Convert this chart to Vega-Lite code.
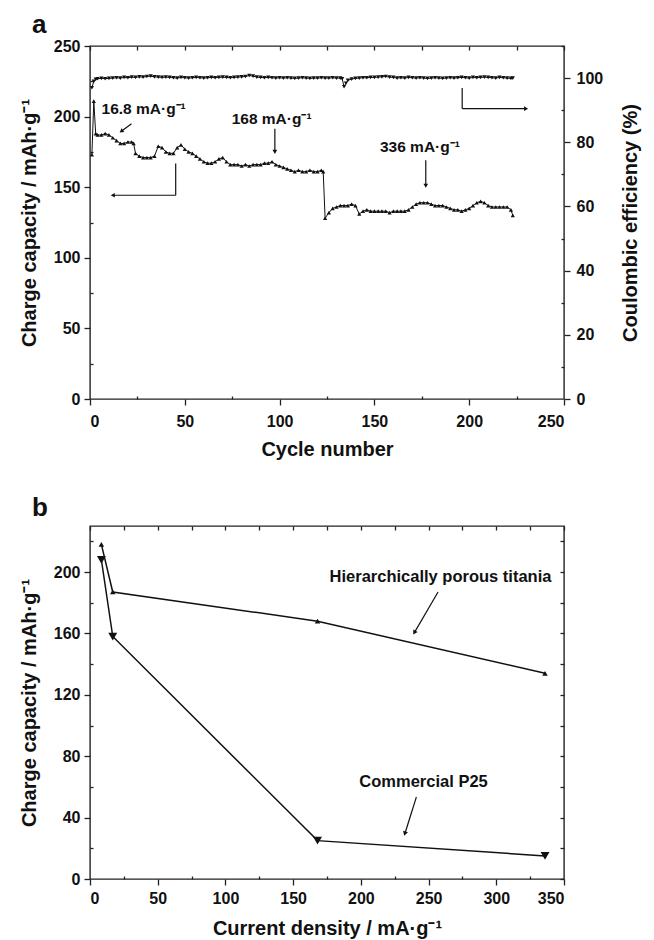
{
"$schema": "https://vega.github.io/schema/vega-lite/v6.json",
"padding": {"left": 18, "top": 11, "right": 2, "bottom": 2},
"background": "white",
"spacing": 34,
"config": {
 "view": {"stroke": "#222", "strokeWidth": 1.4},
 "axis": {"domain": false, "grid": false, "tickColor": "#222", "tickWidth": 1.3,
  "labelFont": "Liberation Sans Narrow, Arial Narrow, Liberation Sans", "labelFontWeight": "bold", "labelFontSize": 16, "labelColor": "#111",
  "titleFont": "Liberation Sans", "titleFontWeight": "bold", "titleFontSize": 20, "titleColor": "#111"},
 "title": {"font": "Liberation Sans", "fontWeight": "bold", "fontSize": 26, "color": "#111"}
},
"datasets": {
 "cap": [
{"cycle":1,"cap":173},{"cycle":2,"cap":211},{"cycle":3,"cap":188},{"cycle":4,"cap":187},{"cycle":6,"cap":187},{"cycle":8,"cap":188},{"cycle":10,"cap":187},{"cycle":12,"cap":185},{"cycle":14,"cap":183},{"cycle":16,"cap":181},{"cycle":18,"cap":181},{"cycle":20,"cap":182},{"cycle":22,"cap":182},{"cycle":23,"cap":181},{"cycle":24,"cap":174},{"cycle":26,"cap":172},{"cycle":28,"cap":171},{"cycle":30,"cap":171},{"cycle":32,"cap":171},{"cycle":34,"cap":172},{"cycle":36,"cap":179},{"cycle":38,"cap":178},{"cycle":40,"cap":175},{"cycle":42,"cap":174},{"cycle":44,"cap":174},{"cycle":46,"cap":178},{"cycle":48,"cap":180},{"cycle":50,"cap":177},{"cycle":52,"cap":175},{"cycle":54,"cap":174},{"cycle":56,"cap":172},{"cycle":58,"cap":170},{"cycle":60,"cap":168},{"cycle":62,"cap":167},{"cycle":64,"cap":167},{"cycle":66,"cap":168},{"cycle":68,"cap":170},{"cycle":70,"cap":171},{"cycle":72,"cap":168},{"cycle":74,"cap":166},{"cycle":76,"cap":166},{"cycle":78,"cap":166},{"cycle":80,"cap":165},{"cycle":82,"cap":166},{"cycle":84,"cap":165},{"cycle":86,"cap":166},{"cycle":88,"cap":166},{"cycle":90,"cap":166},{"cycle":92,"cap":167},{"cycle":94,"cap":167},{"cycle":96,"cap":168},{"cycle":98,"cap":166},{"cycle":100,"cap":165},{"cycle":102,"cap":164},{"cycle":104,"cap":163},{"cycle":106,"cap":162},{"cycle":108,"cap":161},{"cycle":110,"cap":162},{"cycle":112,"cap":161},{"cycle":114,"cap":161},{"cycle":116,"cap":162},{"cycle":118,"cap":161},{"cycle":120,"cap":161},{"cycle":122,"cap":162},{"cycle":123,"cap":161},{"cycle":124,"cap":128},{"cycle":126,"cap":132},{"cycle":128,"cap":135},{"cycle":130,"cap":136},{"cycle":132,"cap":137},{"cycle":134,"cap":137},{"cycle":136,"cap":137},{"cycle":138,"cap":138},{"cycle":140,"cap":137},{"cycle":142,"cap":131},{"cycle":144,"cap":133},{"cycle":146,"cap":134},{"cycle":148,"cap":133},{"cycle":150,"cap":133},{"cycle":152,"cap":133},{"cycle":154,"cap":133},{"cycle":156,"cap":133},{"cycle":158,"cap":132},{"cycle":160,"cap":133},{"cycle":162,"cap":133},{"cycle":164,"cap":133},{"cycle":166,"cap":133},{"cycle":168,"cap":134},{"cycle":170,"cap":136},{"cycle":172,"cap":138},{"cycle":174,"cap":139},{"cycle":176,"cap":139},{"cycle":178,"cap":139},{"cycle":180,"cap":138},{"cycle":182,"cap":137},{"cycle":184,"cap":137},{"cycle":186,"cap":137},{"cycle":188,"cap":136},{"cycle":190,"cap":135},{"cycle":192,"cap":134},{"cycle":194,"cap":134},{"cycle":196,"cap":133},{"cycle":198,"cap":134},{"cycle":200,"cap":135},{"cycle":202,"cap":137},{"cycle":204,"cap":139},{"cycle":206,"cap":140},{"cycle":208,"cap":139},{"cycle":210,"cap":137},{"cycle":212,"cap":136},{"cycle":214,"cap":136},{"cycle":216,"cap":136},{"cycle":218,"cap":136},{"cycle":220,"cap":136},{"cycle":222,"cap":134},{"cycle":223,"cap":130}
 ],
 "ce": [
{"cycle":1,"ce":97.0},{"cycle":2,"ce":99.0},{"cycle":3,"ce":99.6},{"cycle":4,"ce":99.8},{"cycle":6,"ce":99.9},{"cycle":8,"ce":99.8},{"cycle":10,"ce":99.9},{"cycle":12,"ce":100.0},{"cycle":14,"ce":100.1},{"cycle":16,"ce":100.0},{"cycle":18,"ce":100.2},{"cycle":20,"ce":100.1},{"cycle":22,"ce":100.3},{"cycle":24,"ce":100.2},{"cycle":26,"ce":100.4},{"cycle":28,"ce":100.3},{"cycle":30,"ce":100.5},{"cycle":32,"ce":100.6},{"cycle":34,"ce":100.4},{"cycle":36,"ce":100.3},{"cycle":38,"ce":100.2},{"cycle":40,"ce":100.3},{"cycle":42,"ce":100.2},{"cycle":44,"ce":100.1},{"cycle":46,"ce":100.0},{"cycle":48,"ce":100.2},{"cycle":50,"ce":100.1},{"cycle":52,"ce":100.0},{"cycle":54,"ce":100.1},{"cycle":56,"ce":100.2},{"cycle":58,"ce":100.1},{"cycle":60,"ce":100.0},{"cycle":62,"ce":100.1},{"cycle":64,"ce":100.2},{"cycle":66,"ce":100.1},{"cycle":68,"ce":100.2},{"cycle":70,"ce":100.3},{"cycle":72,"ce":100.2},{"cycle":74,"ce":100.1},{"cycle":76,"ce":100.2},{"cycle":78,"ce":100.3},{"cycle":80,"ce":100.4},{"cycle":82,"ce":100.5},{"cycle":84,"ce":100.8},{"cycle":86,"ce":100.6},{"cycle":88,"ce":100.3},{"cycle":90,"ce":100.2},{"cycle":92,"ce":100.1},{"cycle":94,"ce":100.2},{"cycle":96,"ce":100.1},{"cycle":98,"ce":100.0},{"cycle":100,"ce":100.1},{"cycle":102,"ce":100.0},{"cycle":104,"ce":100.1},{"cycle":106,"ce":100.0},{"cycle":108,"ce":99.9},{"cycle":110,"ce":100.0},{"cycle":112,"ce":100.1},{"cycle":114,"ce":100.0},{"cycle":116,"ce":99.9},{"cycle":118,"ce":100.0},{"cycle":120,"ce":100.0},{"cycle":122,"ce":100.1},{"cycle":124,"ce":100.0},{"cycle":126,"ce":100.0},{"cycle":128,"ce":100.1},{"cycle":130,"ce":100.0},{"cycle":132,"ce":100.0},{"cycle":133,"ce":99.8},{"cycle":134,"ce":97.3},{"cycle":135,"ce":98.4},{"cycle":136,"ce":99.3},{"cycle":138,"ce":99.7},{"cycle":140,"ce":99.9},{"cycle":142,"ce":100.0},{"cycle":144,"ce":100.1},{"cycle":146,"ce":100.1},{"cycle":148,"ce":100.2},{"cycle":150,"ce":100.2},{"cycle":152,"ce":100.3},{"cycle":154,"ce":100.4},{"cycle":156,"ce":100.5},{"cycle":158,"ce":100.3},{"cycle":160,"ce":100.2},{"cycle":162,"ce":100.0},{"cycle":164,"ce":100.1},{"cycle":166,"ce":100.0},{"cycle":168,"ce":100.2},{"cycle":170,"ce":100.1},{"cycle":172,"ce":100.0},{"cycle":174,"ce":100.1},{"cycle":176,"ce":100.0},{"cycle":178,"ce":99.9},{"cycle":180,"ce":100.0},{"cycle":182,"ce":100.1},{"cycle":184,"ce":100.0},{"cycle":186,"ce":99.9},{"cycle":188,"ce":100.0},{"cycle":190,"ce":100.1},{"cycle":192,"ce":100.0},{"cycle":194,"ce":100.1},{"cycle":196,"ce":100.2},{"cycle":198,"ce":100.1},{"cycle":200,"ce":100.0},{"cycle":202,"ce":100.2},{"cycle":204,"ce":100.1},{"cycle":206,"ce":100.2},{"cycle":208,"ce":100.3},{"cycle":210,"ce":100.2},{"cycle":212,"ce":100.1},{"cycle":214,"ce":100.0},{"cycle":216,"ce":100.2},{"cycle":218,"ce":100.1},{"cycle":220,"ce":100.0},{"cycle":222,"ce":99.9},{"cycle":223,"ce":100.0}
 ],
 "rate": [
{"sample":"titania","cd":8.4,"cap":218},{"sample":"titania","cd":16.8,"cap":187},{"sample":"titania","cd":168,"cap":168},{"sample":"titania","cd":336,"cap":134},
{"sample":"P25","cd":8.4,"cap":208},{"sample":"P25","cd":16.8,"cap":158},{"sample":"P25","cd":168,"cap":25},{"sample":"P25","cd":336,"cap":15}
 ]
},
"vconcat": [
{
 "width": 474, "height": 353,
 "title": {"text": "a", "anchor": "start", "frame": "group", "dx": -58, "offset": -21, "baseline": "alphabetic"},
 "resolve": {"scale": {"y": "independent"}, "axis": {"x": "independent", "y": "independent"}},
 "layer": [
  {"data": {"name": "cap"}, "mark": {"type": "line", "color": "#111", "strokeWidth": 1},
   "encoding": {
    "x": {"field": "cycle", "type": "quantitative", "scale": {"domain": [0, 250], "nice": false}, "axis": {"orient": "bottom", "values": [0, 50, 100, 150, 200, 250], "tickSize": 6, "labelPadding": 8, "title": "Cycle number", "titlePadding": 10}},
    "y": {"field": "cap", "type": "quantitative", "scale": {"domain": [0, 250], "nice": false}, "axis": {"orient": "left", "values": [0, 50, 100, 150, 200, 250], "tickSize": 6, "labelPadding": 4, "title": "Charge capacity / mAh·g⁻¹", "titlePadding": 14}}}},
  {"data": {"name": "cap"}, "mark": {"type": "point", "shape": "triangle-up", "filled": true, "size": 18, "color": "#111", "opacity": 1},
   "encoding": {
    "x": {"field": "cycle", "type": "quantitative", "scale": {"domain": [0, 250], "nice": false}, "axis": null},
    "y": {"field": "cap", "type": "quantitative", "scale": {"domain": [0, 250], "nice": false}, "axis": null}}},
  {"data": {"name": "ce"}, "mark": {"type": "line", "color": "#111", "strokeWidth": 1},
   "encoding": {
    "x": {"field": "cycle", "type": "quantitative", "scale": {"domain": [0, 250], "nice": false}, "axis": null},
    "y": {"field": "ce", "type": "quantitative", "scale": {"domain": [0, 110], "nice": false}, "axis": {"orient": "right", "values": [0, 20, 40, 60, 80, 100], "tickSize": 6, "labelPadding": 6, "title": "Coulombic efficiency (%)", "titleAngle": -90, "titleBaseline": "bottom", "titlePadding": 38}}}},
  {"data": {"name": "ce"}, "mark": {"type": "point", "shape": "triangle-down", "filled": true, "size": 18, "color": "#111", "opacity": 1},
   "encoding": {
    "x": {"field": "cycle", "type": "quantitative", "scale": {"domain": [0, 250], "nice": false}, "axis": null},
    "y": {"field": "ce", "type": "quantitative", "scale": {"domain": [0, 110], "nice": false}, "axis": null}}},
  {"data": {"values": [{"v": 0}]}, "mark": {"type": "point", "opacity": 0},
   "encoding": {
    "x": {"field": "v", "type": "quantitative", "scale": {"domain": [0, 250], "nice": false}, "axis": {"orient": "bottom", "values": [25, 75, 125, 175, 225], "tickSize": -3, "labels": false, "title": null, "minExtent": 0, "maxExtent": 0}},
    "y": {"field": "v", "type": "quantitative", "scale": {"domain": [0, 250], "nice": false}, "axis": {"orient": "left", "values": [25, 75, 125, 175, 225], "tickSize": -3, "labels": false, "title": null, "minExtent": 0, "maxExtent": 0}}}},
  {"data": {"values": [{"v": 0}]}, "mark": {"type": "point", "opacity": 0},
   "encoding": {
    "x": {"field": "v", "type": "quantitative", "scale": {"domain": [0, 250], "nice": false}, "axis": {"orient": "top", "values": [0, 25, 50, 75, 100, 125, 150, 175, 200, 225, 250], "tickSize": -4, "labels": false, "title": null, "minExtent": 0, "maxExtent": 0}},
    "y": {"field": "v", "type": "quantitative", "scale": {"domain": [0, 110], "nice": false}, "axis": {"orient": "right", "values": [10, 30, 50, 70, 90, 110], "tickSize": -3, "labels": false, "title": null, "minExtent": 0, "maxExtent": 0}}}},
  {"data": {"values": [
     {"x1": 21.9, "y1": 194.9, "x2": 16.5, "y2": 189.6},
     {"x1": 97.5, "y1": 191.4, "x2": 97.5, "y2": 175},
     {"x1": 177.1, "y1": 169, "x2": 177.1, "y2": 151},
     {"x1": 45.2, "y1": 166.7, "x2": 45.2, "y2": 144.3},
     {"x1": 45.2, "y1": 144.3, "x2": 12, "y2": 144.3},
     {"x1": 196.3, "y1": 220.2, "x2": 196.3, "y2": 205.6},
     {"x1": 196.3, "y1": 205.6, "x2": 230, "y2": 205.6}]},
   "mark": {"type": "rule", "color": "#111", "strokeWidth": 1.2},
   "encoding": {
    "x": {"field": "x1", "type": "quantitative", "scale": {"domain": [0, 250], "nice": false}, "axis": null},
    "y": {"field": "y1", "type": "quantitative", "scale": {"domain": [0, 250], "nice": false}, "axis": null},
    "x2": {"field": "x2"}, "y2": {"field": "y2"}}},
  {"data": {"values": [{"x": 97.5, "y": 175}, {"x": 177.1, "y": 151}]},
   "mark": {"type": "point", "shape": "triangle-down", "filled": true, "size": 22, "color": "#111", "opacity": 1},
   "encoding": {
    "x": {"field": "x", "type": "quantitative", "scale": {"domain": [0, 250], "nice": false}, "axis": null},
    "y": {"field": "y", "type": "quantitative", "scale": {"domain": [0, 250], "nice": false}, "axis": null}}},
  {"data": {"values": [{"x": 12, "y": 144.3}]},
   "mark": {"type": "point", "shape": "triangle-left", "filled": true, "size": 22, "color": "#111", "opacity": 1},
   "encoding": {
    "x": {"field": "x", "type": "quantitative", "scale": {"domain": [0, 250], "nice": false}, "axis": null},
    "y": {"field": "y", "type": "quantitative", "scale": {"domain": [0, 250], "nice": false}, "axis": null}}},
  {"data": {"values": [{"x": 230, "y": 205.6}]},
   "mark": {"type": "point", "shape": "triangle-right", "filled": true, "size": 22, "color": "#111", "opacity": 1},
   "encoding": {
    "x": {"field": "x", "type": "quantitative", "scale": {"domain": [0, 250], "nice": false}, "axis": null},
    "y": {"field": "y", "type": "quantitative", "scale": {"domain": [0, 250], "nice": false}, "axis": null}}},
  {"data": {"values": [{"x": 16.5, "y": 189.6}]},
   "mark": {"type": "point", "shape": "triangle-up", "angle": 234, "filled": true, "size": 22, "color": "#111", "opacity": 1},
   "encoding": {
    "x": {"field": "x", "type": "quantitative", "scale": {"domain": [0, 250], "nice": false}, "axis": null},
    "y": {"field": "y", "type": "quantitative", "scale": {"domain": [0, 250], "nice": false}, "axis": null}}},
  {"data": {"values": [
     {"x": 28.3, "y": 205.6, "label": "16.8 mA·g⁻¹"},
     {"x": 95.8, "y": 198.5, "label": "168 mA·g⁻¹"},
     {"x": 174, "y": 178.5, "label": "336 mA·g⁻¹"}]},
   "mark": {"type": "text", "font": "Liberation Sans Narrow, Arial Narrow, Liberation Sans", "fontWeight": "bold", "fontSize": 15.5, "color": "#111", "align": "center", "baseline": "middle"},
   "encoding": {
    "x": {"field": "x", "type": "quantitative", "scale": {"domain": [0, 250], "nice": false}, "axis": null},
    "y": {"field": "y", "type": "quantitative", "scale": {"domain": [0, 250], "nice": false}, "axis": null},
    "text": {"field": "label"}}}
 ]
},
{
 "width": 474, "height": 353,
 "title": {"text": "b", "anchor": "start", "frame": "group", "dx": -58, "offset": -17, "baseline": "alphabetic"},
 "resolve": {"axis": {"x": "independent", "y": "independent"}},
 "layer": [
  {"data": {"name": "rate"}, "mark": {"type": "line", "color": "#111", "strokeWidth": 1.5},
   "encoding": {
    "x": {"field": "cd", "type": "quantitative", "scale": {"domain": [0, 350], "nice": false}, "axis": {"orient": "bottom", "values": [0, 50, 100, 150, 200, 250, 300, 350], "tickSize": 6, "labelPadding": 5, "title": "Current density / mA·g⁻¹", "titlePadding": 12}},
    "y": {"field": "cap", "type": "quantitative", "scale": {"domain": [0, 230], "nice": false}, "axis": {"orient": "left", "values": [0, 40, 80, 120, 160, 200], "tickSize": 6, "labelPadding": 4, "title": "Charge capacity / mAh·g⁻¹", "titlePadding": 14}},
    "detail": {"field": "sample", "type": "nominal"}}},
  {"data": {"name": "rate"}, "mark": {"type": "point", "filled": true, "color": "#111", "opacity": 1},
   "encoding": {
    "x": {"field": "cd", "type": "quantitative", "scale": {"domain": [0, 350], "nice": false}, "axis": null},
    "y": {"field": "cap", "type": "quantitative", "scale": {"domain": [0, 230], "nice": false}, "axis": null},
    "shape": {"field": "sample", "type": "nominal", "scale": {"domain": ["titania", "P25"], "range": ["triangle-up", "triangle-down"]}, "legend": null},
    "size": {"field": "sample", "type": "nominal", "scale": {"domain": ["titania", "P25"], "range": [30, 80]}, "legend": null}}},
  {"data": {"values": [{"v": 0}]}, "mark": {"type": "point", "opacity": 0},
   "encoding": {
    "x": {"field": "v", "type": "quantitative", "scale": {"domain": [0, 350], "nice": false}, "axis": {"orient": "bottom", "values": [25, 75, 125, 175, 225, 275, 325], "tickSize": -3, "labels": false, "title": null, "minExtent": 0, "maxExtent": 0}},
    "y": {"field": "v", "type": "quantitative", "scale": {"domain": [0, 230], "nice": false}, "axis": {"orient": "left", "values": [20, 60, 100, 140, 180, 220], "tickSize": -3, "labels": false, "title": null, "minExtent": 0, "maxExtent": 0}}}},
  {"data": {"values": [{"v": 0}]}, "mark": {"type": "point", "opacity": 0},
   "encoding": {
    "x": {"field": "v", "type": "quantitative", "scale": {"domain": [0, 350], "nice": false}, "axis": {"orient": "top", "values": [0, 25, 50, 75, 100, 125, 150, 175, 200, 225, 250, 275, 300, 325, 350], "tickSize": -4, "labels": false, "title": null, "minExtent": 0, "maxExtent": 0}},
    "y": {"field": "v", "type": "quantitative", "scale": {"domain": [0, 230], "nice": false}, "axis": {"orient": "right", "values": [0, 20, 40, 60, 80, 100, 120, 140, 160, 180, 200, 220], "tickSize": -4, "labels": false, "title": null, "minExtent": 0, "maxExtent": 0}}}},
  {"data": {"values": [
     {"x1": 257, "y1": 187, "x2": 239.5, "y2": 160.5},
     {"x1": 241, "y1": 53.4, "x2": 232.5, "y2": 29.5}]},
   "mark": {"type": "rule", "color": "#111", "strokeWidth": 1.2},
   "encoding": {
    "x": {"field": "x1", "type": "quantitative", "scale": {"domain": [0, 350], "nice": false}, "axis": null},
    "y": {"field": "y1", "type": "quantitative", "scale": {"domain": [0, 230], "nice": false}, "axis": null},
    "x2": {"field": "x2"}, "y2": {"field": "y2"}}},
  {"data": {"values": [{"x": 239.5, "y": 160.5}]},
   "mark": {"type": "point", "shape": "triangle-up", "angle": 210, "filled": true, "size": 26, "color": "#111", "opacity": 1},
   "encoding": {
    "x": {"field": "x", "type": "quantitative", "scale": {"domain": [0, 350], "nice": false}, "axis": null},
    "y": {"field": "y", "type": "quantitative", "scale": {"domain": [0, 230], "nice": false}, "axis": null}}},
  {"data": {"values": [{"x": 232.5, "y": 29.5}]},
   "mark": {"type": "point", "shape": "triangle-up", "angle": 197, "filled": true, "size": 26, "color": "#111", "opacity": 1},
   "encoding": {
    "x": {"field": "x", "type": "quantitative", "scale": {"domain": [0, 350], "nice": false}, "axis": null},
    "y": {"field": "y", "type": "quantitative", "scale": {"domain": [0, 230], "nice": false}, "axis": null}}},
  {"data": {"values": [
     {"x": 258.8, "y": 197, "label": "Hierarchically porous titania"},
     {"x": 246.3, "y": 63.2, "label": "Commercial P25"}]},
   "mark": {"type": "text", "font": "Liberation Sans Narrow, Arial Narrow, Liberation Sans", "fontWeight": "bold", "fontSize": 16.5, "color": "#111", "align": "center", "baseline": "middle"},
   "encoding": {
    "x": {"field": "x", "type": "quantitative", "scale": {"domain": [0, 350], "nice": false}, "axis": null},
    "y": {"field": "y", "type": "quantitative", "scale": {"domain": [0, 230], "nice": false}, "axis": null},
    "text": {"field": "label"}}}
 ]
}
]
}
